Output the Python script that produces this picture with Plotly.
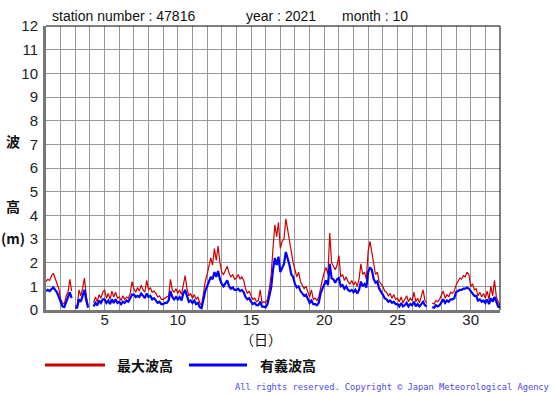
import plotly.graph_objects as go

# 3-hourly samples, day 1.0 .. 32.0 (8 per day)
samples_per_day = 8
max_wave_height = [
    1.2, 1.3, 1.25, 1.45, 1.55, 1.35, 1.1, 0.9,      # 1
    0.45, 0.3, 0.25, 0.6, 0.75, 1.3, 0.8, None,      # 2
    0.2, 0.15, 0.85, 0.6, 0.9, 1.35, 0.6, 0.2,       # 3
    None, None, 0.3, 0.55, 0.35, 0.65, 0.5, 0.75,    # 4
    0.85, 0.5, 0.7, 0.45, 0.8, 0.55, 0.75, 0.5,      # 5
    0.55, 0.4, 0.6, 0.45, 0.55, 0.5, 0.7, 1.2,       # 6
    0.9, 0.75, 0.95, 0.8, 1.05, 0.85, 0.75, 1.25,    # 7
    0.85, 0.95, 0.75, 0.8, 0.7, 0.55, 0.6, 0.45,     # 8
    0.45, 0.5, 0.55, 0.6, 1.3, 0.85, 0.75, 0.9,      # 9
    0.7, 0.85, 0.65, 1.0, 1.45, 0.9, 0.6, 0.7,       # 10
    0.5, 0.65, 0.45, 0.55, 0.3, 0.2, 0.75, 1.2,      # 11
    1.5, 1.8, 2.2, 1.9, 2.6, 2.1, 2.7, 2.0,          # 12
    1.6, 1.5, 1.7, 1.85, 1.55, 1.4, 1.5, 1.3,        # 13
    1.35, 1.5, 1.3, 1.4, 1.25, 0.9, 0.7, 0.8,        # 14
    0.6, 0.45, 0.5, 0.35, 0.4, 0.85, 0.3, 0.35,      # 15
    0.3, 0.45, 0.9, 1.5, 2.6, 3.6, 3.1, 3.7,         # 16
    2.6, 2.9, 3.0, 3.85, 3.4, 2.9, 2.3, 2.0,         # 17
    1.7, 1.4, 1.6, 1.2, 1.05, 0.9, 1.0, 0.75,        # 18
    0.55, 0.85, 0.45, 0.5, 0.4, 0.55, 1.0, 1.3,      # 19
    1.6, 1.8, 1.5, 3.25, 2.0, 1.85, 1.7, 1.9,        # 20
    2.3, 1.4, 1.5, 1.25, 1.4, 1.2, 1.1, 1.25,        # 21
    1.05, 1.2, 1.0, 1.3, 1.95, 1.5, 1.6, 1.3,        # 22
    2.5, 2.9, 2.4, 1.8, 1.5, 1.6, 1.2, 1.1,          # 23
    1.0, 0.8, 0.75, 0.6, 0.7, 0.5, 0.65, 0.45,       # 24
    0.5, 0.35, 0.55, 0.3, 0.45, 0.6, 0.35, 0.5,      # 25
    0.4, 0.75, 0.35, 0.5, 0.3, 0.55, 0.85, 0.4,      # 26
    0.3, None, None, 0.3, 0.25, 0.4, 0.35, 0.45,     # 27
    0.6, 0.8, 0.5, 0.65, 0.55, 0.75, 0.7, 0.8,       # 28
    1.05, 1.2, 1.35, 1.3, 1.45, 1.4, 1.6, 1.5,       # 29
    1.0, 1.1, 0.85, 0.9, 0.6, 0.75, 0.55, 0.7,       # 30
    0.5, 0.8, 0.45, 1.0, 0.6, 1.25, 0.55, 0.35,      # 31
    0.2,                                             # 32.0
]
sig_wave_height = [
    0.8, 0.85, 0.8, 0.9, 0.95, 0.85, 0.75, 0.55,     # 1
    0.3, 0.15, 0.12, 0.35, 0.5, 0.75, 0.5, None,     # 2
    0.1, 0.1, 0.45, 0.35, 0.6, 0.85, 0.4, 0.1,       # 3
    None, None, 0.15, 0.3, 0.2, 0.4, 0.3, 0.45,      # 4
    0.45, 0.3, 0.4, 0.25, 0.45, 0.3, 0.45, 0.3,      # 5
    0.35, 0.25, 0.35, 0.3, 0.4, 0.35, 0.5, 0.65,     # 6
    0.65, 0.55, 0.6, 0.55, 0.7, 0.6, 0.5, 0.7,       # 7
    0.55, 0.6, 0.45, 0.5, 0.4, 0.3, 0.35, 0.25,      # 8
    0.25, 0.3, 0.3, 0.4, 0.8, 0.55, 0.45, 0.55,      # 9
    0.45, 0.55, 0.4, 0.7, 0.85, 0.6, 0.35, 0.4,      # 10
    0.3, 0.4, 0.25, 0.3, 0.12, 0.08, 0.45, 0.8,      # 11
    1.0, 1.2, 1.4, 1.3, 1.6, 1.4, 1.65, 1.3,         # 12
    1.1, 1.0, 1.15, 1.25, 1.0, 0.9, 0.95, 0.85,      # 13
    0.85, 0.9, 0.8, 0.85, 0.75, 0.55, 0.45, 0.5,     # 14
    0.35, 0.25, 0.3, 0.2, 0.2, 0.35, 0.15, 0.15,     # 15
    0.12, 0.25, 0.6, 0.95, 1.7, 2.2, 1.9, 2.25,      # 16
    1.6, 1.8, 1.95, 2.45, 2.2, 1.9, 1.5, 1.4,        # 17
    1.1, 0.95, 1.0, 0.8, 0.7, 0.6, 0.65, 0.5,        # 18
    0.3, 0.4, 0.25, 0.25, 0.2, 0.3, 0.7, 0.9,        # 19
    1.1, 1.25, 1.05, 1.95, 1.35, 1.3, 1.15, 1.3,     # 20
    1.35, 1.0, 1.05, 0.9, 1.0, 0.85, 0.8, 0.85,      # 21
    0.75, 0.85, 0.7, 0.85, 1.2, 1.0, 1.1, 0.95,      # 22
    1.6, 1.8, 1.7, 1.3, 1.15, 1.2, 0.9, 0.8,         # 23
    0.65, 0.5, 0.45, 0.35, 0.4, 0.3, 0.35, 0.25,     # 24
    0.25, 0.15, 0.3, 0.15, 0.2, 0.3, 0.15, 0.25,     # 25
    0.2, 0.35, 0.15, 0.25, 0.15, 0.25, 0.35, 0.2,    # 26
    0.15, None, None, 0.12, 0.1, 0.2, 0.15, 0.2,     # 27
    0.35, 0.45, 0.3, 0.4, 0.35, 0.45, 0.45, 0.5,     # 28
    0.75, 0.8, 0.85, 0.85, 0.9, 0.9, 0.95, 0.9,      # 29
    0.8, 0.75, 0.6, 0.6, 0.4, 0.45, 0.35, 0.4,       # 30
    0.3, 0.45, 0.25, 0.5, 0.35, 0.55, 0.3, 0.15,     # 31
    0.1,                                             # 32.0
]
x_tick_values = list(range(1, 33))
x_tick_labels = [str(d) if d % 5 == 0 else "" for d in x_tick_values]
y_tick_values = list(range(0, 13))

title_parts = ["station number : 47816", "year : 2021", "month : 10"]
legend_names = ["最大波高", "有義波高"]
copyright_text = "All rights reserved. Copyright © Japan Meteorological Agency"

times = [1 + i / samples_per_day for i in range(len(max_wave_height))]

RED = "#cc0000"
BLUE = "#0000ff"
W, H = 555, 395
L, R, T, B = 46, 500, 26, 310


def px(xp):
    return (xp - L) / (R - L)


def py(yp):
    return (B - yp) / (B - T)


fig = go.Figure()
fig.add_trace(go.Scatter(x=times, y=max_wave_height, mode="lines",
                         line=dict(color=RED, width=1.2), connectgaps=False,
                         name=legend_names[0]))
fig.add_trace(go.Scatter(x=times, y=sig_wave_height, mode="lines",
                         line=dict(color=BLUE, width=2.2), connectgaps=False,
                         name=legend_names[1]))

tick_font = dict(family="Liberation Sans, Arial, sans-serif", size=15, color="#222")

fig.update_layout(
    width=W, height=H, autosize=False,
    margin=dict(l=L, r=W - R, t=T, b=H - B, pad=0),
    paper_bgcolor="white", plot_bgcolor="white",
    showlegend=False,
    xaxis=dict(range=[1, 32], tickmode="array", tickvals=x_tick_values,
               ticktext=x_tick_labels, showgrid=True, gridcolor="#999999",
               gridwidth=1, zeroline=False, showline=True, linecolor="#777777",
               linewidth=3, ticks="", tickfont=tick_font, ticklabelstandoff=-6),
    yaxis=dict(range=[0, 12], tickmode="array", tickvals=y_tick_values,
               showgrid=True, gridcolor="#999999", gridwidth=1, zeroline=False,
               showline=True, linecolor="#777777", linewidth=3, ticks="",
               tickfont=tick_font, ticklabelstandoff=2),
)

shapes = [
    dict(type="line", xref="paper", yref="paper", x0=0, x1=1, y0=1, y1=1,
         line=dict(color="black", width=1)),
    dict(type="line", xref="paper", yref="paper", x0=1, x1=1, y0=0, y1=1,
         line=dict(color="black", width=1)),
    dict(type="line", xref="paper", yref="paper", x0=px(45), x1=px(105),
         y0=py(365), y1=py(365), line=dict(color=RED, width=3)),
    dict(type="line", xref="paper", yref="paper", x0=px(189), x1=px(247),
         y0=py(365), y1=py(365), line=dict(color=BLUE, width=3)),
]
fig.update_layout(shapes=shapes)

title_font = dict(family="Liberation Sans, Arial, sans-serif", size=14, color="#111")
cjk_font = dict(family="Noto Sans CJK JP", size=14, color="#111", weight="bold")
ann = []
for text, xp in zip(title_parts, [50, 244, 340]):
    ann.append(dict(text=text, x=px(xp), y=py(16), xref="paper", yref="paper",
                    xanchor="left", yanchor="middle", showarrow=False, font=title_font))
for text, yp in [("波", 141), ("高", 206), ("(m)", 238)]:
    ann.append(dict(text=text, x=px(13), y=py(yp), xref="paper", yref="paper",
                    xanchor="center", yanchor="middle", showarrow=False, font=cjk_font))
ann.append(dict(text="（日）", x=px(261), y=py(339), xref="paper", yref="paper",
                xanchor="center", yanchor="middle", showarrow=False,
                font=dict(family="Noto Sans CJK JP", size=14, color="#111")))
ann.append(dict(text=legend_names[0], x=px(115), y=py(365), xref="paper", yref="paper",
                xanchor="left", yanchor="middle", showarrow=False, font=cjk_font))
ann.append(dict(text=legend_names[1], x=px(258), y=py(365), xref="paper", yref="paper",
                xanchor="left", yanchor="middle", showarrow=False, font=cjk_font))
ann.append(dict(text=copyright_text, x=px(551), y=py(387), xref="paper", yref="paper",
                xanchor="right", yanchor="middle", showarrow=False,
                font=dict(family="DejaVu Sans Mono", size=8.7, color="#4848f0")))
fig.update_layout(annotations=ann)

fig.write_html("out.html", config={"displayModeBar": False},
               post_script="document.body.style.margin='0';document.body.style.padding='0';")
